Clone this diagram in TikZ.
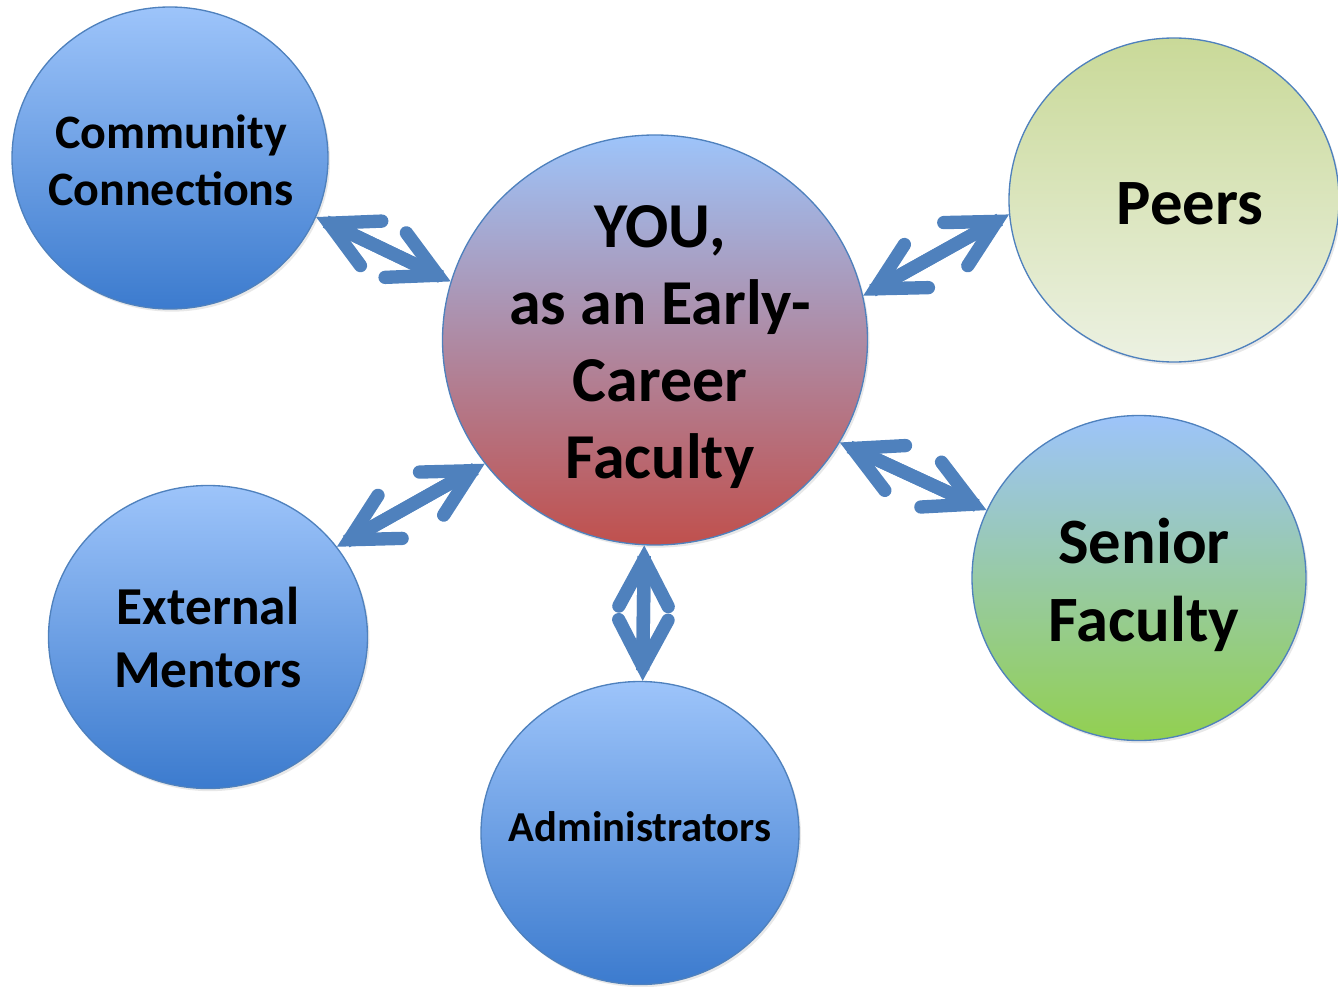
\documentclass[tikz,border=0pt]{standalone}
\usepackage{fontspec}
\setmainfont{Carlito}
\usetikzlibrary{shapes.geometric,arrows.meta,shadows}
\definecolor{accentblue}{RGB}{79,129,189}
\definecolor{skyblue}{RGB}{157,196,250}
\definecolor{deepblue}{RGB}{60,123,206}
\definecolor{brickred}{RGB}{192,80,77}
\definecolor{leafgreen}{RGB}{146,208,80}
\definecolor{olivegreen}{RGB}{201,217,152}
\definecolor{mistgreen}{RGB}{236,241,226}

\begin{document}
\begin{tikzpicture}[
    x=0.75pt, y=-0.75pt,
    bubble/.style={ellipse, draw=accentblue, line width=1pt, inner sep=0pt,
        drop shadow={opacity=0.18, shadow xshift=1.5pt, shadow yshift=-2pt}},
    bluebubble/.style={bubble, top color=skyblue, bottom color=deepblue},
    caption/.style 2 args={align=center, inner sep=0pt, font=\bfseries\fontsize{#1}{#2}\selectfont},
    barb/.tip={Straight Barb[length=35pt, width=37pt, line cap=round, line join=miter]},
    link/.style={barb-barb, line width=10pt, draw=accentblue,
        preaction={draw=accentblue, -, line width=10pt, line cap=butt, shorten <=8pt, shorten >=8pt}}
]
\useasboundingbox (0,0) rectangle (1338,987);

\node[bluebubble, minimum width=237pt, minimum height=226.5pt] (comm) at (170,158) {};
\node[bubble, top color=skyblue, bottom color=brickred, minimum width=318.75pt, minimum height=307.5pt] (you) at (655,340) {};
\node[bubble, top color=olivegreen, bottom color=mistgreen, minimum width=247.5pt, minimum height=243pt] (peers) at (1174,200) {};
\node[bubble, top color=skyblue, bottom color=leafgreen, minimum width=250.5pt, minimum height=243.75pt] (senior) at (1139,578) {};
\node[bluebubble, minimum width=239.25pt, minimum height=227.25pt] (ext) at (208,637) {};
\node[bluebubble, minimum width=238.5pt, minimum height=227.25pt] (admin) at (640,833) {};

\node[caption={36}{42.75}] (commtext) at (171,160) {Community\\Connections};
\node[caption={48}{57.75}] (youtext) at (660,347) {YOU,\\as an Early-\\Career\\Faculty};
\node[caption={48.5}{58.5}] (peerstext) at (1190,204) {Peers};
\node[caption={48.5}{58.5}] (seniortext) at (1144,585) {Senior\\Faculty};
\node[caption={40}{47.25}] (exttext) at (208,637) {External\\Mentors};
\node[caption={32}{38}] (admintext) at (640,827) {Administrators};

\draw[link] (comm.-22) -- (you.164);
\draw[link] (you.12) -- (peers.185);
\draw[link] (you.-29) -- (senior.156);
\draw[link] (ext.35) -- (you.216);
\draw[link] (you.-93) -- (admin.89);
\end{tikzpicture}
\end{document}
